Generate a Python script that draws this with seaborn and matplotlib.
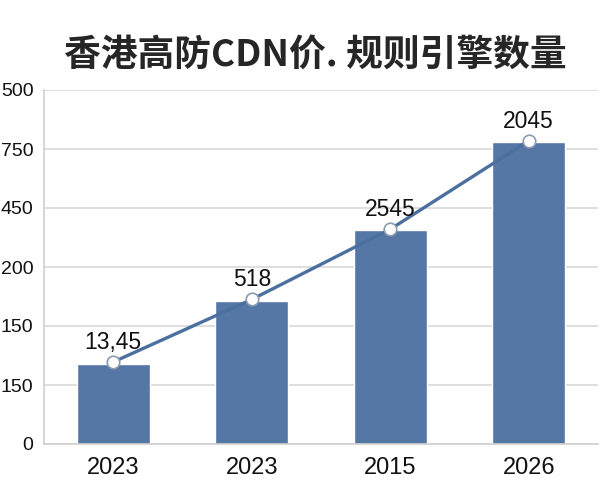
import seaborn as sns
import matplotlib.pyplot as plt

years = ['2023', '2023', '2015', '2026']
bar_vals = [1.36, 2.42, 3.63, 5.12]
line_vals = [1.39, 2.45, 3.64, 5.14]
point_labels = ['13,45', '518', '2545', '2045']
ytick_labels = ['0', '150', '150', '200', '450', '750', '500']

sns.set_style('whitegrid')
plt.rcParams['font.family'] = ['Liberation Sans', 'DejaVu Sans']

fig = plt.figure(figsize=(6, 5), dpi=100)
ax = fig.add_axes([44 / 600, 1 - 444 / 500, 554 / 600, 354 / 500])

idx = list(range(len(years)))
sns.barplot(x=idx, y=bar_vals, color='#5477a6', width=0.53, saturation=1, ax=ax)
sns.lineplot(x=idx, y=line_vals, color='#4b6f9f', linewidth=2.4, marker='o',
             markersize=9, markerfacecolor='white', markeredgecolor='#8c9bb0',
             markeredgewidth=1.2, ax=ax)

for i, (v, lab) in enumerate(zip(line_vals, point_labels)):
    ax.annotate(lab, (i, v), xytext=(0, 13), textcoords='offset pixels',
                ha='center', va='baseline', fontsize=16.5, color='#111111')

ax.set_xlim(-0.5, 3.5)
ax.set_ylim(0, 6)
ax.set_xticks(idx, labels=years)
ax.set_yticks(range(len(ytick_labels)), labels=ytick_labels)
ax.tick_params(axis='x', labelsize=17, pad=9, length=0, colors='#111111')
ax.tick_params(axis='y', labelsize=14, pad=7.5, length=0, colors='#111111')
ax.grid(axis='x', visible=False)
ax.grid(axis='y', color='#d8d8d8', linewidth=1.2)
ax.set_axisbelow(True)
for s in ['top', 'right']:
    ax.spines[s].set_visible(False)
for s in ['left', 'bottom']:
    ax.spines[s].set_color('#cfcfcf')
    ax.spines[s].set_linewidth(1.2)

fig.text(315 / 600, 1 - 55 / 500, '香港高防CDN价. 规则引擎数量', ha='center', va='center',
         fontsize=26.5, fontweight='bold', family=['Noto Sans CJK SC', 'DejaVu Sans'])

fig.savefig('out.png', dpi=100)
